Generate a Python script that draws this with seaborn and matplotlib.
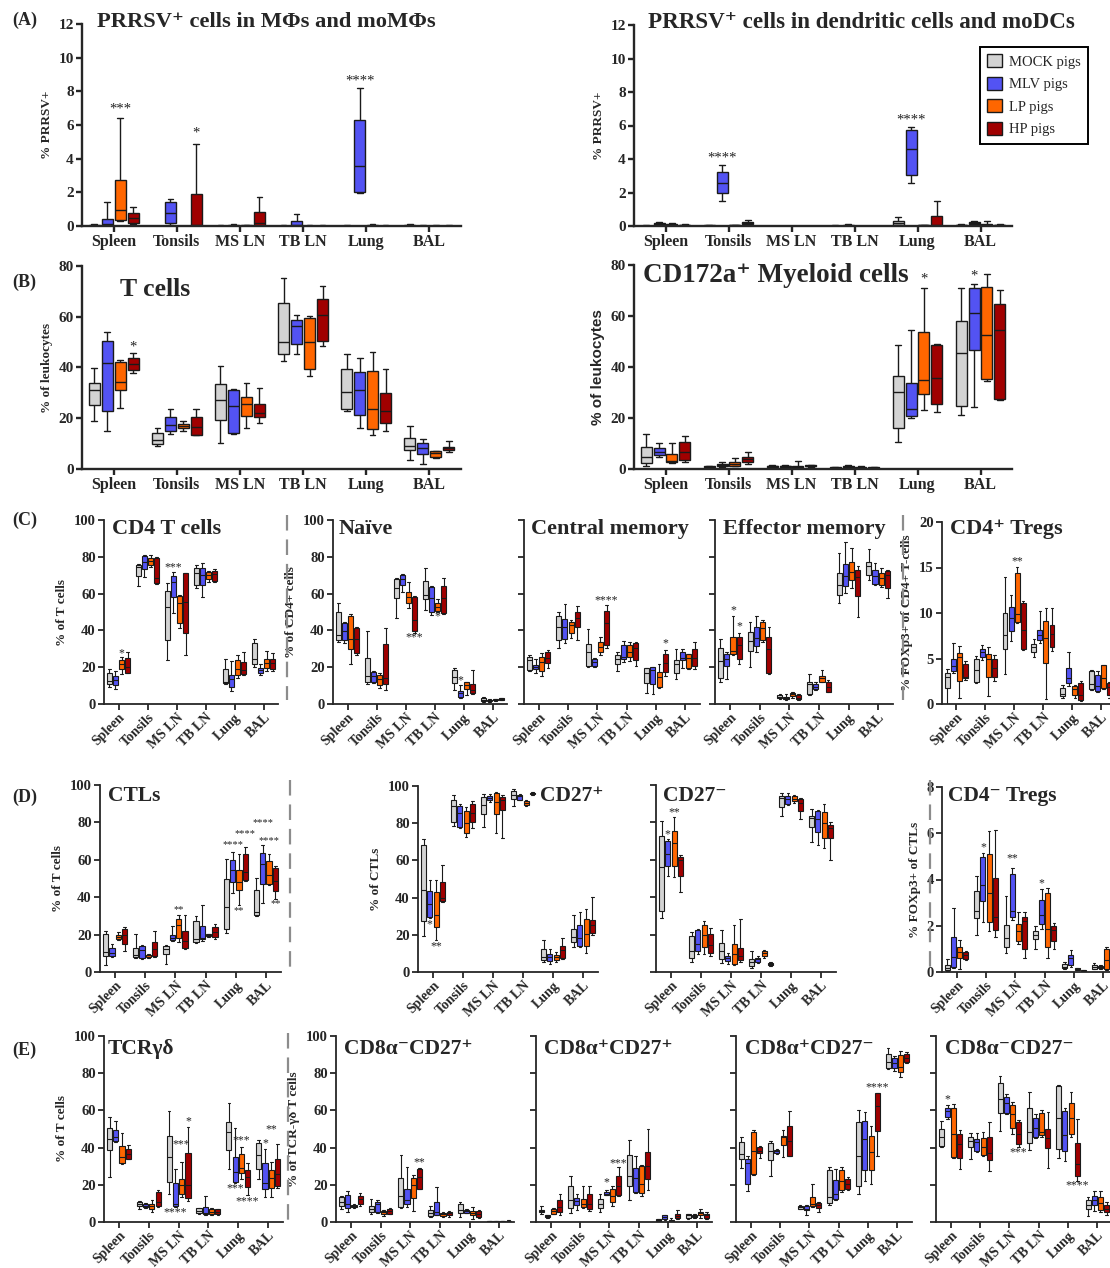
import matplotlib
matplotlib.use("Agg")
import matplotlib.pyplot as plt
import seaborn as sns
import pandas as pd
from matplotlib.lines import Line2D
from matplotlib.patches import Patch

TISSUES = ["Spleen", "Tonsils", "MS LN", "TB LN", "Lung", "BAL"]
GROUPS = ["MOCK pigs", "MLV pigs", "LP pigs", "HP pigs"]
KEYS = ["MOCK", "MLV", "LP", "HP"]
COLORS = ["#d3d3d3", "#5353f3", "#ff6600", "#a00000"]

# five-number summaries (min, q1, median, q3, max), one tuple per tissue
PRRSV_MAC = {
    "MOCK": [(0, 0, .02, .05, .1), (0, 0, 0, .01, .02), (0, 0, .01, .02, .03), (0, 0, .01, .02, .03), (0, 0, .01, .02, .04), (0, 0, .02, .05, .1)],
    "MLV": [(0, .02, .1, .43, 1.42), (.05, .2, .78, 1.44, 1.6), (0, 0, .02, .05, .1), (0, .02, .05, .28, .73), (1.95, 2.02, 3.58, 6.3, 8.18), (0, 0, .01, .02, .03)],
    "LP": [(.3, .34, .95, 2.75, 6.4), (0, 0, 0, .01, .02), (0, 0, .01, .03, .08), (0, 0, .01, .02, .03), (0, 0, .02, .05, .1), (0, 0, .01, .02, .03)],
    "HP": [(.1, .18, .45, .8, 1.12), (0, .01, .03, 1.92, 4.88), (0, .02, .18, .85, 1.72), (0, 0, .01, .02, .03), (0, 0, .01, .02, .03), (0, 0, .01, .02, .03)],
}
PRRSV_DC = {
    "MOCK": [(0, 0, .01, .02, .04), (0, 0, .02, .05, .08), (0, 0, .005, .01, .02), (0, 0, .01, .02, .04), (.05, .08, .15, .3, .52), (0, .02, .04, .06, .1)],
    "MLV": [(.05, .08, .12, .18, .22), (1.47, 1.99, 2.58, 3.22, 3.66), (0, 0, .005, .01, .02), (0, 0, .02, .05, .12), (2.56, 3.02, 4.61, 5.74, 5.9), (.05, .1, .15, .22, .3)],
    "LP": [(.02, .05, .08, .12, .15), (0, .01, .03, .05, .07), (0, 0, .005, .01, .02), (0, 0, .005, .01, .02), (0, .01, .03, .05, .08), (0, .02, .05, .1, .3)],
    "HP": [(.01, .03, .05, .08, .12), (.05, .1, .15, .22, .33), (0, 0, .005, .01, .02), (0, 0, .005, .01, .02), (0, .01, .03, .62, 1.47), (.02, .04, .06, .08, .12)],
}
T_CELLS = {
    "MOCK": [(18.9, 25.2, 31.3, 33.9, 39.9), (8.9, 10, 11.6, 14.2, 16), (10.2, 19.3, 27.3, 33.4, 40.6), (42.4, 45.3, 50.2, 65.4, 75.4), (23, 23.5, 30.4, 39.3, 45.5), (3.7, 7.4, 9.1, 12.1, 17.1)],
    "MLV": [(15.1, 22.9, 41.9, 50.5, 54), (13.7, 15, 17.2, 20.4, 23.5), (13.9, 14.3, 24.8, 31.3, 31.7), (45.5, 49.1, 56.2, 58.9, 60.8), (16.2, 21.4, 31, 38.4, 43.6), (1.8, 6, 8.1, 10.2, 11.8)],
    "LP": [(23.9, 31, 34.2, 42.2, 43.1), (15.1, 16.3, 17.1, 17.6, 19), (16.2, 20.8, 25.5, 28.5, 34), (36.8, 39.6, 49.9, 59.7, 60.2), (13.5, 15.6, 23.5, 38.6, 46.3), (4.2, 4.7, 6.2, 7, 7.1)],
    "HP": [(38, 39.2, 41.3, 43.9, 45.7), (13.3, 13.5, 16.4, 20.6, 23.5), (18.3, 20.5, 21.9, 25.6, 31.9), (48.4, 50.3, 60.8, 66.8, 72.1), (15.1, 18.3, 22.9, 30.1, 39.3), (6.7, 7.4, 8.3, 8.7, 10.9)],
}
MYELOID = {
    "MOCK": [(1, 2.5, 4.7, 8.6, 13.9), (.5, .7, .9, 1.1, 1.3), (.5, .7, 1, 1.3, 1.5), (.2, .3, .5, .7, .8), (10.6, 16.1, 30, 36.4, 48.8), (21.2, 24.9, 45.4, 57.9, 70.8)],
    "MLV": [(4.6, 5.6, 6.7, 8.2, 10.2), (.8, 1, 1.5, 2.1, 2.8), (.5, .7, 1, 1.3, 1.6), (.4, .6, .9, 1.2, 1.6), (19.9, 20.9, 23.6, 33.9, 54.6), (24.2, 46.7, 61, 70.8, 72.6)],
    "LP": [(2.2, 2.6, 3, 6, 10.2), (1, 1.3, 2, 2.8, 4.2), (.2, .4, .7, 1, 3), (.2, .3, .5, .7, 1), (23.3, 29.3, 34.9, 53.8, 71.1), (34.4, 35.2, 52.4, 71.2, 76.6)],
    "HP": [(2.7, 3.7, 6.7, 10.6, 12.8), (2.1, 2.6, 3.9, 4.8, 6.7), (.8, 1, 1.2, 1.4, 1.6), (.2, .3, .4, .6, .8), (22.5, 25.5, 35.7, 48.8, 49.1), (27.2, 27.6, 54.6, 64.9, 70.3)],
}
CD4_T = {
    "MOCK": [(9.2, 10.7, 12.5, 16.7, 19), (64.3, 69.6, 74.5, 75.5, 76.3), (23.9, 35, 52.7, 61.6, 65.9), (63.2, 64.7, 71.4, 73.7, 75.5), (10.7, 11.2, 12.1, 18.8, 24.3), (19.9, 21.6, 24.5, 33, 35.3)],
    "MLV": [(8, 10.3, 13.2, 15.2, 17.9), (69.2, 73.4, 77.4, 80.6, 81), (49.3, 58.3, 66.5, 69.6, 71.9), (58.3, 64.7, 70.1, 73.7, 76.4), (7.2, 9.4, 13.6, 15.8, 23.4), (15.8, 16.8, 18.7, 19.7, 21.6)],
    "LP": [(16.1, 19, 21.6, 23.9, 25.5), (74.6, 75.5, 77.9, 79.2, 81), (41.1, 44.2, 54.7, 58.7, 59.2), (66.5, 67.9, 70.1, 71.9, 72.5), (13.9, 15.8, 18.8, 23.9, 26.6), (18.1, 19.7, 22.5, 24.3, 29)],
    "HP": [(16.7, 17, 20.3, 24.8, 28.3), (65.2, 65.6, 68.7, 79.5, 80.1), (26.6, 38.4, 55.6, 71, 71.4), (66.5, 66.8, 70.7, 72.5, 73.2), (15.8, 16.1, 18.5, 22.6, 28.1), (18.1, 19, 22.1, 24.5, 27.9)],
}
NAIVE = {
    "MOCK": [(33.9, 34.8, 37.5, 50.2, 55.1), (10.7, 12.1, 15.2, 24.8, 39.9), (46.9, 57.4, 63.2, 67.8, 68.3), (51.1, 56.9, 59.2, 66.8, 74.1), (7.6, 11.2, 14.5, 18.5, 19.4), (1, 1.5, 2, 3, 4)],
    "MLV": [(33.3, 34.6, 39.7, 43.8, 44.7), (11.2, 11.8, 15.4, 17.2, 17.9), (60.7, 64.7, 67.9, 70.1, 70.5), (48.4, 50.2, 57.4, 63.8, 64.1), (3.1, 4, 5.8, 7.2, 10.3), (1.2, 1.5, 2, 2.4, 2.8)],
    "LP": [(21.6, 29.7, 35.3, 47.6, 48.9), (8.9, 10.3, 13.6, 15.8, 16.7), (52.4, 55.1, 58.3, 61.1, 66.1), (49.8, 50.5, 52.9, 54.7, 57.1), (4.9, 8, 10.3, 11.8, 12.1), (1.8, 2, 2.3, 2.5, 2.8)],
    "HP": [(26.6, 27.5, 35.3, 41.5, 42), (7.6, 10.7, 14.3, 32.4, 41.1), (38.8, 39.7, 45.7, 58.3, 58.9), (48.7, 49.3, 57.4, 64.3, 68.7), (5.3, 5.8, 7.6, 10.9, 18.5), (2, 2.3, 2.7, 3, 3.5)],
}
CENTRAL = {
    "MOCK": [(18.1, 18.5, 23.9, 25.7, 26.6), (30.6, 34.8, 41.7, 47.8, 49.8), (20.3, 20.8, 28.1, 32.4, 40.6), (18.1, 21.7, 24.5, 26.6, 28.4), (5.8, 11.6, 16.7, 19.4, 19.7), (13.4, 17, 21.6, 23.9, 29.7)],
    "MLV": [(16.7, 18.8, 19.9, 21.2, 24.5), (33.3, 35.3, 41.7, 46, 54.2), (20.3, 20.8, 23, 24.5, 25.2), (22.6, 24.5, 25.4, 32.1, 34.2), (5.3, 10.9, 18.5, 19.9, 20.3), (19.4, 23.9, 24.8, 28.1, 29.9)],
    "LP": [(15.2, 17.9, 23, 25.7, 27.5), (35.7, 38.8, 42.9, 44.4, 45.7), (26.6, 28.4, 30.8, 33.5, 36.6), (23.4, 25.7, 28.4, 32.1, 33.9), (8.5, 9.1, 14.9, 17.6, 21.6), (19, 19.7, 24.8, 27, 27.2)],
    "HP": [(19.4, 22.1, 24.8, 28.4, 29.3), (34.8, 42, 46.6, 49.8, 53.3), (30.6, 32.1, 43.8, 50.5, 53.8), (20.8, 23.9, 30.6, 33.3, 33.9), (15.4, 17.6, 22.1, 27, 29.3), (18.8, 20.8, 24.8, 29.7, 33.9)],
}
EFFECTOR = {
    "MOCK": [(11.8, 13.9, 23.4, 30.6, 35.1), (20.3, 29, 34.2, 38.9, 44.4), (2.5, 3, 3.8, 5, 5.5), (4.9, 5.4, 10.9, 12.1, 16.1), (54.7, 59.2, 64.7, 71, 82.2), (67.4, 70.1, 75, 77, 84.2)],
    "MLV": [(13.4, 20.7, 24.5, 27.2, 28.4), (28.4, 31.5, 35.7, 41.7, 47.8), (2, 2.5, 3.2, 4, 5.5), (7.6, 8.2, 9.4, 10.7, 12.1), (60.5, 64.1, 69.6, 75.9, 88.2), (64.7, 65, 69.6, 72.8, 76.4)],
    "LP": [(26.6, 27, 29, 36.2, 47.8), (33.9, 34.8, 41.1, 44.4, 45.7), (3.5, 4.5, 5.5, 6, 6.5), (11.8, 12.1, 13.9, 15.4, 18.5), (62.9, 67.4, 71.9, 77.4, 84.6), (63.8, 64.7, 68.7, 71, 73.7)],
    "HP": [(21.7, 24.3, 32.1, 36.2, 38.8), (16.1, 16.7, 29.9, 36.2, 42), (2, 2.5, 3.5, 5, 5.5), (6.3, 6.7, 9.4, 12.1, 13), (47.1, 58.7, 69.2, 72.8, 75.2), (57.8, 62.9, 70.1, 72.3, 72.8)],
}
TREG_CD4 = {
    "MOCK": [(0, 1.75, 3, 3.4, 3.9), (2.3, 2.4, 3.7, 5, 5.3), (3.3, 6.05, 7.6, 10, 14), (5.2, 5.75, 6.25, 6.55, 7.15), (.65, .85, 1.1, 1.8, 2.1), (1.55, 1.65, 2.2, 3.65, 3.75)],
    "MLV": [(3.4, 3.65, 4.2, 5, 6.75), (4.85, 5.2, 5.75, 6, 6.5), (6.9, 8, 9.4, 10.7, 12), (6.7, 7.05, 7.6, 8.15, 10.25), (1.95, 2.3, 2.85, 3.95, 5.75), (1.3, 1.45, 1.95, 3.15, 3.6)],
    "LP": [(.65, 2.5, 5.2, 5.6, 6.4), (.9, 3, 5, 5.5, 6.25), (8.9, 9.05, 9.9, 14.4, 15.1), (.55, 4.5, 7.2, 9.1, 10.6), (.65, 1, 1.65, 1.95, 2.1), (1.65, 1.75, 2.9, 4.25, 4.3)],
    "HP": [(2.6, 2.9, 3, 4.4, 4.7), (2.55, 2.95, 4, 4.9, 5.4), (5.9, 6, 8.1, 11.1, 11.35), (5.85, 6.25, 7.65, 8.7, 10.5), (.35, .45, 1, 2.35, 2.55), (.7, 1, 1.9, 2.3, 2.45)],
}
CTL = {
    "MOCK": [(4, 8.4, 10.7, 20.2, 21.8), (7.5, 8, 8.9, 12.9, 20.5), (4.5, 9.5, 12.5, 13.9, 14.3), (15.7, 16.1, 17.9, 27.3, 30), (21.1, 23.2, 34.8, 49.5, 60.2), (30, 30.7, 32.1, 44.1, 50.4)],
    "MLV": [(8, 8.6, 10.4, 12.9, 15.2), (7, 7.5, 11.6, 13.9, 14.3), (16.4, 17, 18.2, 19.6, 24.6), (16.4, 17.5, 18.2, 24.6, 35.7), (42, 48.2, 54.5, 59.8, 64.3), (37.1, 47.3, 57.5, 63.9, 67.9)],
    "LP": [(17, 17.5, 18.75, 20, 21.4), (7.7, 8, 8.9, 9.3, 9.8), (16.1, 18.2, 25, 28.6, 30.4), (18.75, 19.3, 20, 20.4, 20.5), (36, 43.75, 48.2, 54.5, 63), (46.4, 47.3, 52.1, 59.5, 62.9)],
    "HP": [(11.1, 15.2, 20, 22.9, 24.1), (8, 8.6, 12.1, 16.1, 21.8), (12.5, 12.9, 16.4, 21.8, 30.4), (17.9, 18.75, 21.4, 24.1, 25.9), (48.6, 49.1, 53.6, 62.9, 66.6), (38.8, 43.4, 48.6, 55.4, 56.6)],
}
CD27_POS = {
    "MOCK": [(19.4, 27.2, 44.1, 68.1, 71.7), (78.5, 80.6, 89.2, 92.3, 95), (78, 85.1, 89.6, 94.1, 95.9), (89.2, 93.2, 95, 97.1, 98.2), (5.4, 6.3, 8.1, 12.2, 17), (13.4, 16.1, 18.8, 22.9, 30.8)],
    "MLV": [(29, 29.6, 36.7, 43.5, 49.3), (77.4, 78, 85.7, 89.2, 90.5), (91.4, 92.3, 93.5, 94.4, 95.5), (92.3, 92.7, 94.4, 95.3, 95.9), (4.5, 5.7, 8.1, 9.9, 12.2), (13.4, 14, 18.5, 25.1, 32.3)],
    "LP": [(17, 24.2, 30.8, 43, 49.3), (72.6, 74.9, 80.3, 86.6, 88.7), (74.9, 85.1, 91.4, 96.4, 96.8), (89.2, 89.6, 90.9, 91.9, 92.7), (5.4, 6.3, 8.1, 9.3, 10.8), (10.4, 14, 20.6, 28.7, 34.1)],
    "HP": [(37.6, 38, 39.8, 48.4, 57.3), (77.4, 80.6, 85.7, 90.3, 91.8), (72.2, 86.9, 92.3, 94.1, 95), (95, 95.5, 96, 96.3, 96.8), (6.8, 7.5, 11.6, 14, 18.3), (20.1, 21.1, 25.4, 28.1, 40.3)],
}
CD27_NEG = {
    "MOCK": [(28.8, 32.4, 56, 72.9, 80.6), (5.4, 7.7, 11.3, 19.4, 21.6), (4.7, 6.8, 11.3, 15.5, 22.7), (2, 3.2, 5.4, 7.2, 11.3), (83.3, 88.3, 92.8, 94.1, 95.5), (69.4, 77.3, 82.4, 83.3, 86.9)],
    "MLV": [(51.3, 56.7, 63.1, 70.1, 71), (9.5, 11.3, 14.9, 22.5, 23), (4.1, 5.9, 7.7, 8.6, 10.4), (4.7, 5.4, 7.2, 7.7, 8.3), (89.2, 89.9, 92.6, 94.1, 95.5), (68, 74.8, 82, 86.3, 86.5)],
    "LP": [(50.9, 56.7, 69.2, 75.2, 82.9), (9.5, 13.5, 19.8, 25.2, 27.2), (3.8, 4.1, 9.5, 14.9, 25.4), (7.7, 8.6, 10.4, 11.3, 11.7), (90.5, 91.4, 92.6, 94.1, 94.6), (66.2, 71.6, 79.7, 85.4, 89.9)],
    "HP": [(42.8, 51.3, 59.9, 61.7, 62.6), (8.6, 10.1, 14.6, 20.3, 23.4), (5.6, 6.3, 8.6, 13.1, 28.1), (3, 3.5, 4.3, 4.8, 5.2), (81.8, 86.3, 90.5, 92.3, 93.2), (59.9, 71.6, 77, 78.4, 80)],
}
TREG_CD4NEG = {
    "MOCK": [(.04, .09, .19, .29, .55), (1.6, 2.32, 2.65, 3.52, 4.17), (.84, 1.1, 1.46, 2.03, 3.3), (.98, 1.42, 1.59, 1.78, 2), (.12, .16, .23, .36, .43), (.12, .14, .22, .29, .41)],
    "MLV": [(.19, .23, .65, 1.53, 2.75), (2.17, 3.08, 3.76, 4.96, 5.15), (2.24, 2.39, 2.65, 4.24, 4.49), (1.88, 2.07, 2.46, 3.11, 3.59), (.22, .29, .62, .74, .95), (.15, .18, .22, .26, .3)],
    "LP": [(.12, .62, .87, 1.1, 1.37), (1.78, 2.17, 3.42, 5.11, 6.09), (1.2, 1.35, 1.78, 2.07, 2.6), (.62, 1.1, 1.88, 3.42, 3.63), (.08, .1, .13, .16, .18), (.09, .14, .51, 1.01, 1.06)],
    "HP": [(.51, .58, .74, .87, .91), (1.52, 1.82, 2.39, 4.05, 6.15), (.62, .98, 2.19, 2.4, 2.6), (1.01, 1.35, 1.82, 2, 2.1), (.02, .04, .06, .08, .1), (.05, .1, .2, .35, .5)],
}
TCR_GD = {
    "MOCK": [(24.2, 38.5, 44.4, 50.4, 56.5), (7.2, 8.6, 9.9, 10.9, 11.3), (14.9, 21.7, 35.1, 46.2, 59.7), (4.1, 4.7, 5.9, 7.3, 7.7), (28.7, 38.5, 48.4, 53.8, 64.2), (23.3, 28.3, 36, 42.3, 44.1)],
    "MLV": [(43.2, 43.5, 45.7, 49.5, 54.3), (7.7, 8.1, 8.6, 9.5, 10.4), (8.2, 8.6, 9.9, 21.1, 28.7), (3.8, 4.1, 5, 8.1, 14), (20.8, 21.5, 27.1, 34.9, 50.7), (13.6, 17.9, 21.1, 31.5, 39.4)],
    "LP": [(31, 31.9, 35.1, 40.9, 48), (5.4, 6.8, 8.6, 9.5, 11.6), (13.6, 14.9, 19.9, 23.3, 32.3), (3.6, 4.1, 5.6, 6.8, 7.3), (23.3, 26.2, 28.9, 36.4, 40.3), (13.6, 18.1, 23.8, 27.8, 32.3)],
    "HP": [(33.7, 34.1, 36.4, 39.1, 41.2), (8.1, 8.6, 10.8, 16.1, 17), (11.3, 13.1, 19.9, 37.3, 51.3), (4, 4.5, 5.5, 6.8, 7.2), (14.3, 19, 24.4, 27.8, 31.5), (18.5, 19.4, 25.6, 34.1, 41.8)],
}
GD_N27P = {
    "MOCK": [(6.8, 8.6, 10.8, 13.6, 14), (4.1, 5.4, 7.2, 8.6, 12.2), (7.3, 8.1, 14, 23.8, 35.8), (2.7, 3.2, 4.7, 6.3, 8.6), (2.9, 4.7, 6.3, 9.5, 10.9), (.1, .2, .3, .4, .5)],
    "MLV": [(5.6, 7.3, 9.5, 14.5, 16.7), (4.7, 5.4, 9.5, 10.9, 11.6), (8.2, 9.5, 11.6, 17.6, 29.6), (3.6, 3.8, 5.4, 10.9, 19), (4.7, 5, 5.9, 6.5, 7.2), (.1, .2, .3, .4, .5)],
    "LP": [(7.7, 8.1, 8.6, 9.1, 9.5), (3.2, 4.5, 5.4, 5.9, 6.3), (5.9, 13.1, 19.9, 23.8, 25.3), (2.9, 3.2, 4.1, 5, 5.6), (1.4, 3.8, 5, 5.9, 8.1), (.1, .2, .3, .4, .5)],
    "HP": [(8.6, 9.5, 12.2, 14, 15.8), (4.1, 4.5, 5.9, 6.8, 7.3), (17.6, 17.9, 24.2, 28.7, 29.2), (2.7, 3.6, 4.7, 5.4, 5.9), (2.3, 2.7, 4.5, 5.9, 6.3), (.2, .3, .5, .7, .9)],
}
GD_P27P = {
    "MOCK": [(4.5, 5.5, 6.1, 6.6, 8.4), (5, 7.5, 11.6, 19.6, 24.5), (5.4, 7.7, 9.8, 12.5, 15.2), (11.6, 19.6, 25, 36.1, 44.3), (.5, .8, 1.2, 1.5, 1.8), (1.8, 2.3, 3.6, 4.1, 4.5)],
    "MLV": [(2.3, 2.7, 3.2, 3.6, 3.9), (6.3, 8.9, 11.3, 13, 15.2), (14.3, 14.6, 15.2, 16.1, 17), (15.7, 16.1, 23.6, 28.9, 35.7), (1.3, 1.8, 2.7, 3.6, 3.9), (2, 2.5, 3.2, 4, 4.3)],
    "LP": [(4.1, 4.5, 5.7, 6.8, 7.5), (7.5, 8, 9.8, 12.5, 19.6), (8.6, 10.7, 13.9, 17.9, 19.6), (13.9, 15.7, 20.5, 30, 30.4), (.2, .4, .7, 1, 2), (2.1, 3.9, 5, 5.4, 7.1)],
    "HP": [(3.9, 5.4, 8, 11.6, 15.2), (5.9, 6.8, 9.8, 15.2, 19.3), (13.9, 14.3, 19.6, 25, 29.5), (17, 22.9, 30, 37.5, 50), (1.8, 2.3, 3.2, 4.5, 6.3), (1.8, 2.1, 3.6, 4.5, 5.4)],
}
GD_P27N = {
    "MOCK": [(28.9, 33.9, 36.3, 42.9, 45.9), (25, 33.4, 38.4, 42.3, 43.8), (6.8, 7.1, 7.9, 8.4, 9), (8.9, 10.4, 13.4, 27.7, 29.5), (15.2, 19.1, 35.4, 53.6, 60.4), (82.1, 82.7, 86.1, 90.2, 93.8)],
    "MLV": [(16.6, 20.2, 31.6, 33.9, 35.4), (36.3, 37, 38, 38.9, 39.3), (3.9, 6.3, 7.1, 8.4, 8.9), (12, 12.5, 15.2, 22.7, 28.6), (22.3, 27.7, 44.6, 54.5, 59.3), (81.3, 82.7, 85.7, 88, 89.3)],
    "LP": [(25.5, 25.9, 38, 48.2, 49.6), (34.8, 41.4, 45.9, 46.4, 49.6), (8, 8.6, 9.8, 13.4, 20.2), (16.1, 17, 22.3, 28, 29.5), (20.5, 28.2, 37.5, 46.4, 51.8), (78.2, 80.4, 83.4, 89.6, 92)],
    "HP": [(34.3, 37, 38.4, 40.2, 41.1), (35.4, 35.7, 43.4, 51.8, 59.8), (5.4, 7.5, 8.9, 10.2, 10.7), (17, 17.5, 20.2, 22.9, 24.1), (35.7, 49.1, 62.5, 69.3, 69.6), (85.7, 86.1, 88.4, 90.2, 91.6)],
}
GD_N27N = {
    "MOCK": [(40.5, 40.9, 45.9, 49.8, 54.5), (33.8, 40.2, 43.8, 45.9, 48), (49.1, 58.4, 65.9, 74.5, 78.6), (38.8, 42.3, 48.6, 61.1, 70), (34.6, 39.1, 55.7, 73, 73.9), (3.4, 7, 9.3, 12, 13.4)],
    "MLV": [(55.2, 56.3, 59.8, 61.1, 62.9), (37.9, 38.2, 43.2, 44.5, 47.7), (58, 58.8, 63.8, 67, 68.8), (45, 45.9, 50.7, 55.7, 57.9), (32.9, 38.4, 46.8, 59.8, 61.1), (5.7, 9.3, 12, 13.8, 16.4)],
    "LP": [(34.3, 35.2, 47.1, 61.1, 63.2), (35.5, 36.1, 40.5, 45, 48.6), (47.1, 50.4, 57.9, 62.9, 64.3), (45.9, 46.8, 48.6, 58.8, 60.2), (45.9, 47.3, 55.7, 64.1, 70), (5.2, 6.6, 10.2, 13.4, 16.4)],
    "HP": [(28.4, 34.6, 42, 47.3, 49.5), (27.5, 33.4, 37, 45.5, 53.6), (40.5, 42, 47.1, 53.9, 54.8), (29.1, 39.6, 45, 49.8, 58.9), (21.8, 24.8, 31.3, 42.7, 55.4), (4, 5.5, 7, 9, 11)],
}

# significance marks: (tissue index, group index, text, value where it sits)
STARS_MAC = [(0, 2, "***", 6.95), (1, 3, "*", 5.55), (4, 1, "****", 8.6)]
STARS_DC = [(1, 1, "****", 4.05), (4, 1, "****", 6.3)]
STARS_T = [(0, 3, "*", 48)]
STARS_MYEL = [(4, 2, "*", 74.5), (5, 1, "*", 75.5)]
STARS_CD4 = [(0, 2, "*", 27.5), (2, 1, "***", 74.5)]
STARS_NAIVE = [(2, 3, "***", 36), (3, 2, "*", 47.5), (4, 1, "*", 13)]
STARS_CENTRAL = [(2, 3, "****", 56.5), (4, 3, "*", 33)]
STARS_EFF = [(0, 2, "*", 51), (0, 3, "*", 42)]
STARS_TREG4 = [(2, 2, "**", 15.7)]
STARS_CTL = [(2, 2, "**", 33.5), (4, 1, "****", 68), (4, 3, "****", 74), (5, 1, "****", 80),
             (5, 2, "****", 70), (4, 2, "**", 33), (5, 3, "**", 36.5)]
STARS_27P = [(0, 1, "*", 25.5), (0, 2, "**", 14)]
STARS_27N = [(0, 1, "*", 73.5), (0, 2, "**", 85.5)]
STARS_TREG8 = [(1, 1, "*", 5.4), (2, 1, "**", 4.9), (3, 1, "*", 3.85)]
STARS_GD = [(2, 1, "****", 5), (2, 2, "***", 41.8), (2, 3, "*", 54.3), (4, 2, "***", 44), (4, 1, "***", 18),
            (4, 3, "****", 11.3), (5, 1, "*", 42.5), (5, 2, "**", 50)]
STARS_N27P = [(2, 3, "**", 32)]
STARS_P27P = [(2, 1, "*", 21.2), (2, 3, "***", 31.5)]
STARS_P27N = [(4, 3, "****", 72.5)]
STARS_N27N = [(0, 1, "*", 66), (2, 3, "***", 37.5), (4, 3, "****", 19.5)]

FW, FH = 1110, 1268
SERIF = ["Liberation Serif", "DejaVu Serif"]

sns.set_style("ticks")
plt.rcParams["font.family"] = SERIF
plt.rcParams["font.weight"] = "bold"
plt.rcParams["axes.labelweight"] = "bold"


def rect(l, t, r, b):
    return [l / FW, 1 - b / FH, (r - l) / FW, (b - t) / FH]


def fpos(x, y):
    return x / FW, 1 - y / FH


def to_frame(stats):
    rows = []
    for g, k in zip(GROUPS, KEYS):
        for t, five in zip(TISSUES, stats[k]):
            for v in five:
                rows.append((t, g, v))
    return pd.DataFrame(rows, columns=["tissue", "group", "value"])


def panel(box, stats, top, step, stars, ylabel=None, big=False, show_y=True, ylab_pad=4,
          star_size=None):
    ax = fig.add_axes(rect(*box))
    width, gap = (0.82, 0.15) if big else (0.84, 0.18)
    lw = 1.0 if big else 0.8
    sns.boxplot(data=to_frame(stats), x="tissue", y="value", hue="group", order=TISSUES,
                hue_order=GROUPS, palette=COLORS, whis=(0, 100), width=width, gap=gap,
                linewidth=lw, linecolor="#1a1a1a", saturation=1, showfliers=False,
                legend=False, ax=ax)
    ax.set_xlim(-0.5, 5.5)
    ax.set_ylim(0, top)
    ax.set_yticks([i * step for i in range(int(round(top / step)) + 1)])
    sns.despine(ax=ax)
    spw = 1.7 if big else 1.3
    for s in ("left", "bottom"):
        ax.spines[s].set_linewidth(spw)
    ax.tick_params(axis="both", direction="out", length=4, width=spw, pad=2)
    ax.tick_params(axis="x", labelsize=11.5 if big else 10, pad=2 if big else 1)
    ax.tick_params(axis="y", labelsize=11 if big else 10.5)
    ax.set_xlabel("")
    if ylabel:
        ax.set_ylabel(ylabel, fontsize=9.5, labelpad=ylab_pad)
    else:
        ax.set_ylabel("")
    if not show_y:
        ax.tick_params(axis="y", labelleft=False)
    if not big:
        for lab in ax.get_xticklabels():
            lab.set_rotation(45)
            lab.set_ha("right")
            lab.set_rotation_mode("anchor")
    if star_size is None:
        star_size = 10.5 if big else 8.5
    for t, g, s, y in stars:
        ax.text(t + (g - 1.5) * width / 4, y, s, ha="center", va="center",
                fontsize=star_size, fontweight="normal", color="#222222")
    return ax


def title(x, y, s, size):
    fig.text(*fpos(x, y), s, fontsize=size, fontweight="bold", ha="left", va="center")


def dashed(x, y0, y1):
    fig.add_artist(Line2D([x / FW, x / FW], [1 - y0 / FH, 1 - y1 / FH], color="#8c8c8c",
                          lw=1.6, ls=(0, (7, 4)), transform=fig.transFigure))


fig = plt.figure(figsize=(FW / 100, FH / 100), dpi=100)

# row A
panel((82, 24, 461, 226), PRRSV_MAC, 12, 2, STARS_MAC, "% PRRSV+", big=True)
panel((634, 25, 1012, 226), PRRSV_DC, 12, 2, STARS_DC, "% PRRSV+", big=True)
title(97, 22, "PRRSV\u207a cells in M\u03a6s and moM\u03a6s", 16.2)
title(648, 22, "PRRSV\u207a cells in dendritic cells and moDCs", 16.6)
handles = [Patch(facecolor=c, edgecolor="#1a1a1a", lw=1) for c in COLORS]
fig.legend(handles, GROUPS, loc="upper left", bbox_to_anchor=fpos(980, 47), borderaxespad=0,
           frameon=True, fancybox=False, edgecolor="black", framealpha=1, handlelength=1.0,
           handleheight=1.0, labelspacing=0.55, borderpad=0.5, handletextpad=0.5,
           prop={"family": SERIF, "weight": "normal", "size": 10.5}).get_frame().set_linewidth(1.4)

# row B
panel((82, 266, 461, 469), T_CELLS, 80, 20, STARS_T, "% of leukocytes", big=True)
axb = panel((634, 265, 1012, 469), MYELOID, 80, 20, STARS_MYEL, None, big=True)
axb.set_ylabel("% of leukocytes", fontsize=11, family="Liberation Sans", labelpad=4)
title(120, 289, "T cells", 18.5)
title(643, 275, "CD172a\u207a Myeloid cells", 19.5)

# row C
panel((104, 520, 278, 704), CD4_T, 100, 20, STARS_CD4, "% of T cells")
panel((333, 520, 507, 704), NAIVE, 100, 20, STARS_NAIVE, "% of CD4+ cells")
panel((524, 520, 700, 704), CENTRAL, 100, 20, STARS_CENTRAL, show_y=False)
panel((715, 520, 893, 704), EFFECTOR, 100, 20, STARS_EFF, show_y=False)
panel((942, 522, 1115, 704), TREG_CD4, 20, 5, STARS_TREG4, "% FOXp3+ of CD4+ T-cells")
for x, s in [(112, "CD4 T cells"), (339, "Na\u00efve"), (531, "Central memory"),
             (723, "Effector memory"), (950, "CD4\u207a Tregs")]:
    title(x, 529, s, 16)
dashed(287, 515, 700)
dashed(903, 515, 700)

# row D
panel((100, 785, 281, 972), CTL, 100, 20, STARS_CTL, "% of T cells", star_size=7.5)
panel((418, 786, 598, 972), CD27_POS, 100, 20, STARS_27P, "% of CTLs")
panel((656, 785, 836, 972), CD27_NEG, 100, 20, STARS_27N, show_y=False)
panel((942, 787, 1118, 972), TREG_CD4NEG, 8, 2, STARS_TREG8, "% FOXp3+ of CTLs")
title(108, 796, "CTLs", 15.5)
title(540, 796, "CD27\u207a", 15.5)
title(663, 796, "CD27\u207b", 15.5)
title(948, 796, "CD4\u207b Tregs", 15.5)
dashed(290, 780, 970)
dashed(930, 780, 970)

# row E
panel((104, 1036, 283, 1222), TCR_GD, 100, 20, STARS_GD, "% of T cells")
panel((336, 1036, 514, 1222), GD_N27P, 100, 20, STARS_N27P, "% of TCR-\u03b3\u03b4 T cells")
panel((536, 1036, 712, 1222), GD_P27P, 100, 20, STARS_P27P, show_y=False)
panel((736, 1036, 912, 1222), GD_P27N, 100, 20, STARS_P27N, show_y=False)
panel((936, 1036, 1112, 1222), GD_N27N, 100, 20, STARS_N27N, show_y=False)
for x, s in [(108, "TCR\u03b3\u03b4"), (344, "CD8\u03b1\u207bCD27\u207a"), (544, "CD8\u03b1\u207aCD27\u207a"),
             (745, "CD8\u03b1\u207aCD27\u207b"), (945, "CD8\u03b1\u207bCD27\u207b")]:
    title(x, 1049, s, 15.5)
dashed(288, 1033, 1220)

for y, s in [(20, "(A)"), (282, "(B)"), (520, "(C)"), (797, "(D)"), (1050, "(E)")]:
    title(12, y, s, 13)

fig.savefig("out.png", dpi=100)
